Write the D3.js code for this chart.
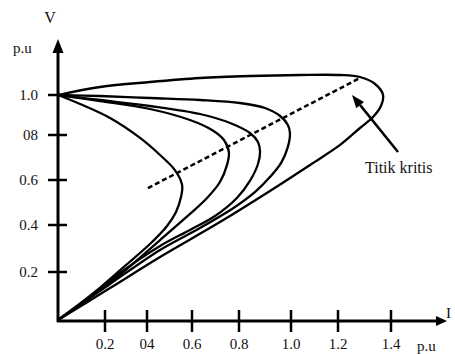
<!DOCTYPE html>
<html><head><meta charset="utf-8">
<script src="https://cdn.jsdelivr.net/npm/d3@7"></script>
<style>body{margin:0;background:#fff}svg{display:block}</style>
</head><body><svg id="c" width="455" height="354"></svg>
<script>
// ---- data (I in p.u., V in p.u.) ----
const xTicks = [0.2, 0.4, 0.6, 0.8, 1.0, 1.2, 1.4];
const xTickLabels = ["0.2", "04", "0.6", "0.8", "1.0", "1.2", "1.4"];
const yTicks = [0.2, 0.4, 0.6, 0.8, 1.0];
const yTickLabels = ["0.2", "0.4", "0.6", "08", "1.0"];

const curve1I = [0, 0.094, 0.224, 0.367, 0.458, 0.524, 0.556, 0.551, 0.529, 0.489, 0.413, 0.295, 0.157, 0];
const curve1V = [1.0, 0.955, 0.885, 0.787, 0.711, 0.644, 0.578, 0.524, 0.458, 0.396, 0.319, 0.226, 0.117, 0];
const curve2I = [0, 0.179, 0.413, 0.591, 0.685, 0.736, 0.757, 0.749, 0.719, 0.664, 0.591, 0.458, 0.271, 0.136, 0];
const curve2V = [1.0, 0.97, 0.93, 0.875, 0.825, 0.778, 0.724, 0.667, 0.591, 0.52, 0.449, 0.336, 0.188, 0.092, 0];
const curve3I = [0, 0.179, 0.413, 0.634, 0.762, 0.842, 0.873, 0.881, 0.873, 0.842, 0.791, 0.698, 0.591, 0.458, 0.271, 0.136, 0];
const curve3V = [1.0, 0.975, 0.945, 0.905, 0.86, 0.81, 0.769, 0.724, 0.671, 0.596, 0.52, 0.44, 0.379, 0.311, 0.196, 0.096, 0];
const curve4I = [0, 0.179, 0.413, 0.634, 0.804, 0.90, 0.958, 0.988, 0.996, 0.988, 0.962, 0.919, 0.862, 0.783, 0.634, 0.458, 0.224, 0];
const curve4V = [1.0, 0.995, 0.985, 0.975, 0.96, 0.935, 0.895, 0.85, 0.81, 0.747, 0.676, 0.613, 0.547, 0.48, 0.387, 0.294, 0.15, 0];
const curve5I = [0, 0.179, 0.413, 0.634, 0.842, 1.038, 1.208, 1.283, 1.340, 1.370, 1.362, 1.332, 1.283, 1.208, 1.081, 0.919, 0.719, 0.458, 0.224, 0];
const curve5V = [1.0, 1.04, 1.065, 1.085, 1.095, 1.10, 1.10, 1.09, 1.055, 1.0, 0.945, 0.89, 0.835, 0.756, 0.667, 0.551, 0.413, 0.264, 0.133, 0];
const criticalI = [0.404, 1.283];
const criticalV = [0.564, 1.085];

// ---- layout ----
const FONT = "'Liberation Serif', 'Times New Roman', 'DejaVu Serif', serif";
const svg = d3.select("#c");
// hand-drawn axis spacing reproduced with piecewise-linear scales
const x = d3.scaleLinear().domain([0, 0.2, 0.4, 0.6, 0.8, 1.0, 1.2, 1.4])
  .range([58, 105, 147, 192, 239, 291, 338, 391]);
const y = d3.scaleLinear().domain([0, 0.2, 0.4, 0.6, 0.8, 1.0, 1.2])
  .range([320, 272, 225, 180, 135, 95, 55]);

const ink = "#000";
const x0 = x(0), y0 = y(0) + 1;
const txt = (tx, ty, s, size, anchor) => svg.append("text").attr("x", tx).attr("y", ty)
  .attr("font-family", FONT).attr("font-size", size).attr("fill", "#111")
  .attr("text-anchor", anchor || "start").text(s);

// axes
svg.append("line").attr("x1", x0).attr("y1", y0 + 1).attr("x2", x0).attr("y2", 52)
  .attr("stroke", ink).attr("stroke-width", 3);
svg.append("path").attr("d", `M${x0},39 L${x0 - 5.5},53 L${x0 + 5.5},53 Z`).attr("fill", ink);
svg.append("line").attr("x1", x0 - 1).attr("y1", y0).attr("x2", 437).attr("y2", y0)
  .attr("stroke", ink).attr("stroke-width", 3);
svg.append("path").attr("d", `M447,${y0} L436,${y0 - 5} L436,${y0 + 5} Z`).attr("fill", ink);

// ticks
xTicks.forEach((t, i) => {
  svg.append("line").attr("x1", x(t)).attr("x2", x(t)).attr("y1", y0 - 11).attr("y2", y0 + 11)
    .attr("stroke", ink).attr("stroke-width", 2.5);
  txt(x(t), 349, xTickLabels[i], 15, "middle");
});
yTicks.forEach((t, i) => {
  svg.append("line").attr("x1", x0 - 10).attr("x2", t === 1.0 ? x0 : x0 + 9).attr("y1", y(t)).attr("y2", y(t))
    .attr("stroke", ink).attr("stroke-width", 2.5);
  txt(38, y(t) + 5, yTickLabels[i], 15, "end");
});

// axis titles
txt(50, 23, "V", 16, "middle");
txt(13, 53, "p.u", 15);
txt(446, 318, "I", 15);
txt(417, 351, "p.u", 15);

// curves
const line = d3.line().x(d => x(d[0])).y(d => y(d[1])).curve(d3.curveCatmullRom.alpha(0.5));
const curves = [[curve1I, curve1V], [curve2I, curve2V], [curve3I, curve3V], [curve4I, curve4V], [curve5I, curve5V]];
curves.forEach(([I, V]) => {
  svg.append("path").datum(I.map((v, k) => [v, V[k]])).attr("d", line)
    .attr("fill", "none").attr("stroke", ink).attr("stroke-width", 2.3).attr("stroke-linejoin", "round");
});

// critical point locus (dashed)
svg.append("path").datum(criticalI.map((v, k) => [v, criticalV[k]]))
  .attr("d", d3.line().x(d => x(d[0])).y(d => y(d[1])))
  .attr("fill", "none").attr("stroke", ink).attr("stroke-width", 2.5).attr("stroke-dasharray", "5,3");

// annotation arrow
const ax1 = 398, ay1 = 152, ax2 = 352, ay2 = 95;
const ang = Math.atan2(ay2 - ay1, ax2 - ax1);
const hl = 13, hw = 5;
const bx = ax2 - hl * Math.cos(ang), by = ay2 - hl * Math.sin(ang);
svg.append("line").attr("x1", ax1).attr("y1", ay1).attr("x2", bx).attr("y2", by)
  .attr("stroke", ink).attr("stroke-width", 2.5);
svg.append("path").attr("d",
  `M${ax2},${ay2} L${bx + hw * Math.sin(ang)},${by - hw * Math.cos(ang)} L${bx - hw * Math.sin(ang)},${by + hw * Math.cos(ang)} Z`)
  .attr("fill", ink);
txt(365, 173, "Titik kritis", 16);
</script></body></html>
